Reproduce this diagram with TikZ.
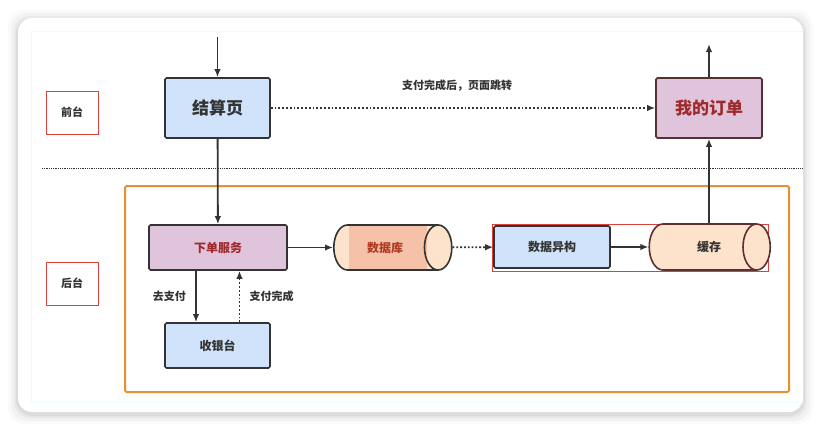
\documentclass[tikz,border=0pt]{standalone}
\usepackage{fontspec}
\setmainfont{Noto Sans CJK SC}
\usetikzlibrary{shapes.geometric,arrows.meta}

\definecolor{boxblue}{HTML}{D0E3FA}
\definecolor{boxpurple}{HTML}{E0C4DC}
\definecolor{peach}{HTML}{FDE3CB}
\definecolor{salmon}{HTML}{F5C1A9}
\definecolor{darkred}{HTML}{9E2A2B}
\definecolor{lineclr}{HTML}{333333}
\definecolor{frameorange}{HTML}{E8912F}
\definecolor{framered}{HTML}{D9413A}

\tikzset{
  box/.style={draw=lineclr, line width=1.6pt, rounded corners=1.5pt, align=center, text=lineclr},
  tag/.style={draw=framered, line width=0.9pt, minimum width=52pt, minimum height=43pt,
    text=lineclr, font=\fontsize{11}{13}\selectfont\bfseries},
  db/.style={cylinder, draw=lineclr, line width=1.6pt, aspect=1.5, text=lineclr,
    font=\fontsize{12}{14}\selectfont\bfseries},
  arr/.style={-{Latex[length=8pt,width=6.5pt]}, draw=lineclr, line width=1.8pt},
  dotarr/.style={-{Latex[length=8pt,width=6.5pt]}, draw=lineclr, line width=1.8pt, dotted},
  small/.style={text=lineclr, font=\fontsize{11}{13}\selectfont\bfseries},
}

\begin{document}
\begin{tikzpicture}[x=1pt, y=-1pt]
    \useasboundingbox (0,0) rectangle (822,431);
    \fill[white] (0,0) rectangle (822,431);

    % card with soft shadow
    \foreach \s/\o in {10/0.02, 7/0.03, 4/0.04, 2/0.05}
        \fill[black, opacity=\o, rounded corners=16pt] (18-\s,18-\s+2) rectangle (803+\s,412+\s+2);
    \fill[white, rounded corners=14pt] (18,18) rectangle (803,412);
    \draw[cyan!6, line width=0.6pt] (30,31) -- (803,31);
    \draw[cyan!6, line width=0.6pt] (31,31) -- (31,402) -- (803,402);

    % front / back separator
    \draw[lineclr, line width=0.8pt, densely dotted] (42,168) -- (803,168);
    \node[tag] (qt) at (72,112.5) {前台};
    \node[tag] (ht) at (72,283.5) {后台};

    % back frame
    \draw[frameorange, line width=2pt, rounded corners=1.5pt] (125,186) rectangle (789,392);
    \draw[framered, line width=0.9pt] (492,224) rectangle (768,271);

    % nodes
    \node[box, fill=boxblue, minimum width=105pt, minimum height=60pt,
          font=\fontsize{17}{20}\selectfont\bfseries] (jsy) at (217.5,108) {结算页};
    \node[box, fill=boxpurple, draw=lineclr!70!darkred, minimum width=106pt, minimum height=60pt,
          text=darkred, font=\fontsize{17}{20}\selectfont\bfseries] (wddd) at (709,108) {我的订单};
    \node[box, fill=boxpurple, minimum width=138pt, minimum height=45pt, text=darkred,
          font=\fontsize{12}{14}\selectfont\bfseries] (xdfw) at (218,247.5) {下单服务};
    \node[box, fill=boxblue, minimum width=105pt, minimum height=45pt,
          font=\fontsize{12}{14}\selectfont\bfseries] (syt) at (217.5,345.5) {收银台};
    \node[box, fill=boxblue, minimum width=116pt, minimum height=42pt,
          font=\fontsize{12}{14}\selectfont\bfseries] (sjyg) at (552,247) {数据异构};
    \node[db, fill=peach, minimum height=118pt, minimum width=45pt, text=darkred!80!orange,
          path picture={\fill[salmon] ([xshift=15pt]path picture bounding box.south west)
              rectangle ([xshift=-25pt]path picture bounding box.north east);}]
          (sjk) at (382,247.5) {\hspace*{6pt}数据库};
    \node[db, fill=peach, draw=lineclr!60!darkred, minimum height=121pt, minimum width=46pt]
          (hc) at (699,247) {\hspace*{20pt}缓存};

    % connectors
    \coordinate (in) at (217.5,37);
    \coordinate (out) at (709,44);
    \draw[arr] (in) -- (jsy);
    \draw[arr] (wddd) -- (out);
    \draw[dotarr] (jsy) -- (wddd) node[midway, above=13pt, xshift=-6pt, small] {支付完成后，页面跳转};
    \draw[arr] (jsy) -- (xdfw);
    \draw[arr] (xdfw) -- (sjk);
    \draw[dotarr] (sjk) -- (sjyg);
    \draw[arr] (sjyg) -- (hc);
    \draw[arr] (hc.north -| wddd.south) -- (wddd);
    \draw[arr] ([xshift=-22pt]xdfw.south) -- ([xshift=-22pt]xdfw.south |- syt.north)
        node[midway, left=6pt, small] {去支付};
    \draw[dotarr] ([xshift=22pt]syt.north) -- ([xshift=22pt]syt.north |- xdfw.south)
        node[midway, right=6pt, small] {支付完成};

\end{tikzpicture}
\end{document}
